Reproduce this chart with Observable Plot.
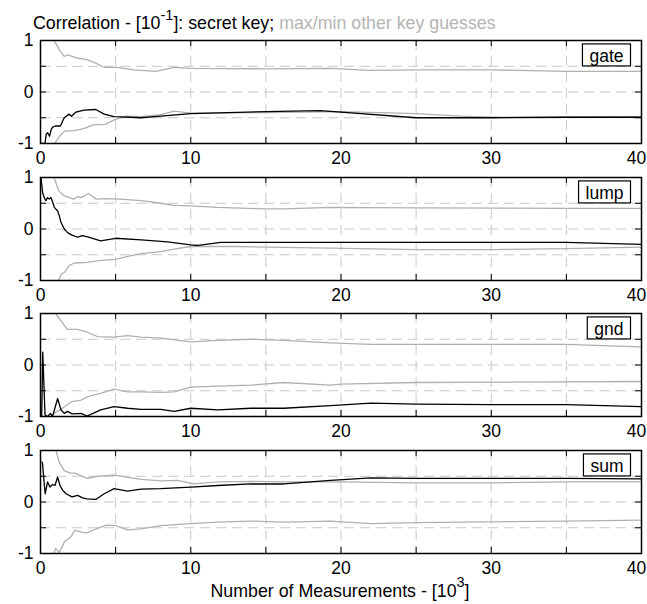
<!DOCTYPE html>
<html><head><meta charset="utf-8">
<script src="https://cdn.jsdelivr.net/npm/d3@7"></script>
<script src="https://cdn.jsdelivr.net/npm/@observablehq/plot@0.6"></script>
<style>
body{margin:0;background:#fff;}
#chart{position:relative;width:647px;height:604px;font-family:"Liberation Sans",Arial,Helvetica,sans-serif;color:#000;}
.t{position:absolute;white-space:nowrap;font-size:17.8px;line-height:17px;}
.sup{position:relative;font-size:14.5px;}
.gray{color:#b4b4b4;}
</style></head><body>
<div id="chart">
  <div class="t" style="left:33px;top:15px;">Correlation - [10<span class="sup" style="top:-9.5px;">-1</span>]: secret key; <span class="gray">max/min other key guesses</span></div>
  <div class="t" style="left:340px;top:583px;transform:translateX(-50%);">Number of Measurements - [10<span class="sup" style="top:-10.5px;">3</span>]</div>
</div>
<script>
// ---- data (x in 10^3 measurements, y in 10^-1 correlation) ----
const panelNames = ["gate", "lump", "gnd", "sum"];

const gateSecret = [[0,-1.0],[0.3,-1.0],[0.38,-0.82],[0.48,-0.79],[0.6,-0.86],[0.72,-0.72],[0.81,-0.68],[1.03,-0.66],[1.32,-0.66],[1.58,-0.50],[1.91,-0.43],[2.07,-0.47],[2.36,-0.39],[2.9,-0.35],[3.68,-0.34],[4.24,-0.43],[4.9,-0.48],[6.68,-0.50],[8.0,-0.47],[10,-0.42],[15,-0.38],[18.6,-0.36],[20,-0.39],[25,-0.50],[30,-0.50],[35,-0.49],[40,-0.49]];
const gateMax = [[0.9,1.0],[1.1,0.9],[1.25,0.82],[1.58,0.69],[1.8,0.72],[2.46,0.66],[3.1,0.63],[3.68,0.56],[4.24,0.48],[5.1,0.48],[6.2,0.43],[7.7,0.40],[8.9,0.48],[10,0.46],[15,0.45],[19.3,0.46],[21.9,0.42],[25.3,0.43],[30,0.43],[35,0.40],[40,0.40]];
const gateMin = [[0.94,-1.0],[1.27,-0.86],[1.6,-0.76],[2.2,-0.75],[2.9,-0.71],[3.5,-0.64],[4.3,-0.63],[4.9,-0.54],[5.7,-0.47],[6.7,-0.48],[8.0,-0.44],[8.9,-0.37],[10,-0.41],[15,-0.40],[20,-0.38],[25,-0.42],[28,-0.47],[30,-0.49],[40,-0.48]];

const lumpSecret = [[0.03,1.0],[0.14,0.71],[0.25,0.61],[0.36,0.55],[0.47,0.61],[0.58,0.58],[0.7,0.61],[0.8,0.53],[0.92,0.42],[1.14,0.35],[1.25,0.26],[1.36,0.13],[1.58,0.0],[1.8,-0.07],[2.1,-0.12],[2.47,-0.16],[2.8,-0.13],[3.2,-0.16],[4.0,-0.23],[5.0,-0.18],[6.7,-0.21],[8.45,-0.25],[10,-0.31],[10.5,-0.32],[12,-0.26],[15,-0.26],[20,-0.26],[35,-0.26],[40,-0.30]];
const lumpMax = [[0.9,1.0],[1.22,0.74],[1.55,0.65],[2.2,0.58],[2.5,0.63],[2.7,0.61],[3.2,0.69],[3.7,0.58],[4.3,0.59],[5.3,0.58],[6.7,0.55],[8,0.50],[8.9,0.46],[10,0.45],[11.8,0.42],[15,0.39],[16.2,0.39],[19.3,0.42],[25,0.41],[35,0.40],[40,0.40]];
const lumpMin = [[1.2,-1.0],[1.4,-0.87],[1.6,-0.84],[1.9,-0.71],[2.25,-0.66],[3.1,-0.65],[4,-0.61],[5,-0.59],[5.8,-0.53],[6.7,-0.48],[8,-0.44],[8.9,-0.39],[10,-0.34],[12.9,-0.34],[15,-0.35],[19.3,-0.37],[25,-0.40],[30,-0.40],[35,-0.38],[40,-0.35]];

const gndSecret = [[0,-1.0],[0.08,-1.0],[0.15,0.25],[0.3,-0.97],[0.47,-1.0],[0.66,-0.94],[0.8,-1.0],[1.14,-0.65],[1.36,-0.87],[1.58,-0.94],[1.8,-0.9],[2.1,-0.95],[2.7,-0.94],[3.1,-0.99],[3.5,-0.94],[4.0,-0.87],[4.9,-0.81],[5.8,-0.84],[6.7,-0.86],[8,-0.86],[8.9,-0.9],[10,-0.84],[11.8,-0.87],[14,-0.84],[16.2,-0.84],[19.3,-0.79],[22,-0.74],[25,-0.76],[30,-0.77],[35,-0.77],[40,-0.81]];
const gndMax = [[1.0,1.0],[1.78,0.69],[2.45,0.69],[3.0,0.65],[3.8,0.55],[4.9,0.54],[5.8,0.57],[6.7,0.54],[8,0.52],[10,0.45],[11.8,0.48],[14,0.50],[16.2,0.48],[19.3,0.43],[22,0.40],[35,0.40],[40,0.35]];
const gndMin = [[0.7,-1.0],[0.9,-0.94],[1.6,-0.81],[2.1,-0.71],[2.7,-0.68],[3.2,-0.61],[4.0,-0.55],[4.9,-0.47],[5.8,-0.52],[6.7,-0.52],[8,-0.53],[8.9,-0.52],[10,-0.43],[11.8,-0.41],[14,-0.39],[16.2,-0.34],[19.3,-0.39],[20,-0.37],[25,-0.34],[40,-0.32]];

const sumSecret = [[0.1,0.78],[0.14,0.74],[0.2,0.52],[0.31,0.16],[0.47,0.39],[0.63,0.29],[0.8,0.34],[0.96,0.32],[1.14,0.48],[1.3,0.32],[1.47,0.23],[1.7,0.16],[2.1,0.10],[2.47,0.13],[2.8,0.08],[3.1,0.06],[3.68,0.05],[4.24,0.16],[4.9,0.26],[5.8,0.21],[6.7,0.25],[8,0.26],[10,0.29],[11.8,0.32],[14,0.35],[16.2,0.35],[19.3,0.42],[22,0.47],[25,0.46],[30,0.46],[35,0.46],[40,0.45]];
const sumMax = [[1.03,1.0],[1.25,0.77],[1.58,0.61],[2.0,0.56],[2.3,0.56],[3.1,0.46],[3.8,0.50],[4.9,0.52],[5.8,0.48],[6.7,0.44],[8,0.41],[9.1,0.42],[10.2,0.35],[11.8,0.39],[14,0.40],[16.2,0.39],[20,0.39],[25,0.37],[30,0.37],[35,0.39],[40,0.39]];
const sumMin = [[0.9,-1.0],[1.0,-0.9],[1.25,-0.98],[1.6,-0.77],[2.0,-0.68],[2.3,-0.55],[2.8,-0.59],[3.1,-0.60],[3.7,-0.52],[4.4,-0.45],[5.0,-0.46],[5.8,-0.54],[6.7,-0.52],[8,-0.46],[10,-0.42],[11.8,-0.39],[14,-0.37],[16.2,-0.39],[19.3,-0.37],[22,-0.42],[25,-0.40],[35,-0.37],[40,-0.35]];

const xTicks = [0,5,10,15,20,25,30,35,40];
const xLabels = [0,10,20,30];
const xLabelsEnd = [40];
const yTicks = [-1,-0.5,0,0.5,1];
const yLabels = [-1,0,1];
const xGrid = [5,10,15,20,25,30,35];
const yGrid = [-0.5,0,0.5];

const series = [
  [gateSecret, gateMax, gateMin],
  [lumpSecret, lumpMax, lumpMin],
  [gndSecret, gndMax, gndMin],
  [sumSecret, sumMax, sumMin]
];

// ---- layout ----
const W = 647, H = 137, mt = 10, mb = 24, ml = 40, mr = 6;
const ph = H - mt - mb, pw = W - ml - mr;
const tops = [30, 167, 303, 440];
const font = '"Liberation Sans", Arial, Helvetica, sans-serif';
const chart = document.getElementById("chart");
const gx = d => d[0], gy = d => d[1];

panelNames.forEach((name, i) => {
  const [sec, mx, mn] = series[i];
  const svg = Plot.plot({
    width: W, height: H,
    marginTop: mt, marginBottom: mb, marginLeft: ml, marginRight: mr,
    style: {fontSize: "17px", fontFamily: font, background: "transparent", overflow: "visible", color: "black"},
    x: {domain: [0, 40], label: null},
    y: {domain: [-1, 1], label: null},
    marks: [
      Plot.gridX(xGrid, {stroke: "#c8c8c8", strokeOpacity: 1, strokeDasharray: "10,6", strokeWidth: 1}),
      Plot.gridY(yGrid, {stroke: "#c8c8c8", strokeOpacity: 1, strokeDasharray: "10,6", strokeWidth: 1}),
      Plot.tickX(xTicks, {x: d => d, insetBottom: ph - 6, stroke: "black"}),
      Plot.tickX(xTicks, {x: d => d, insetTop: ph - 6, stroke: "black"}),
      Plot.tickY(yTicks, {y: d => d, insetRight: pw - 6, stroke: "black"}),
      Plot.tickY(yTicks, {y: d => d, insetLeft: pw - 6, stroke: "black"}),
      Plot.line(mx, {x: gx, y: gy, stroke: "#b0b0b0", strokeWidth: 1.3, clip: true}),
      Plot.line(mn, {x: gx, y: gy, stroke: "#b0b0b0", strokeWidth: 1.3, clip: true}),
      Plot.line(sec, {x: gx, y: gy, stroke: "black", strokeWidth: 1.3, clip: true}),
      Plot.axisX(xLabels, {tickSize: 0, tickPadding: 8, label: null, fontSize: 17.5}),
      Plot.axisX(xLabelsEnd, {tickSize: 0, tickPadding: 8, label: null, fontSize: 17.5, dx: -5}),
      Plot.axisY(yLabels, {tickSize: 0, tickPadding: 7, label: null, fontSize: 17.5, tickFormat: d => String(d)}),
      Plot.frame({stroke: "black", strokeWidth: 1.5}),
      Plot.text([name], {text: d => d, frameAnchor: "top-right", textAnchor: "end", lineAnchor: "top", dx: -18, dy: 9, fontSize: 17.5, fill: "black", className: "lbl"})
    ]
  });
  svg.style.position = "absolute";
  svg.style.left = "0px";
  svg.style.top = tops[i] + "px";
  chart.appendChild(svg);
  const texts = svg.querySelectorAll(".lbl text");
  const t = texts.length ? texts[0] : null;
  if (t) {
    const b = t.getBBox();
    const r = document.createElementNS("http://www.w3.org/2000/svg", "rect");
    r.setAttribute("x", b.x - 7);
    r.setAttribute("y", b.y - 2);
    r.setAttribute("width", b.width + 14);
    r.setAttribute("height", b.height + 2);
    r.setAttribute("fill", "white");
    r.setAttribute("stroke", "black");
    r.setAttribute("stroke-width", 1.2);
    if (t.getAttribute("transform")) r.setAttribute("transform", t.getAttribute("transform"));
    t.parentNode.insertBefore(r, t);
  }
});
</script>
</body></html>
